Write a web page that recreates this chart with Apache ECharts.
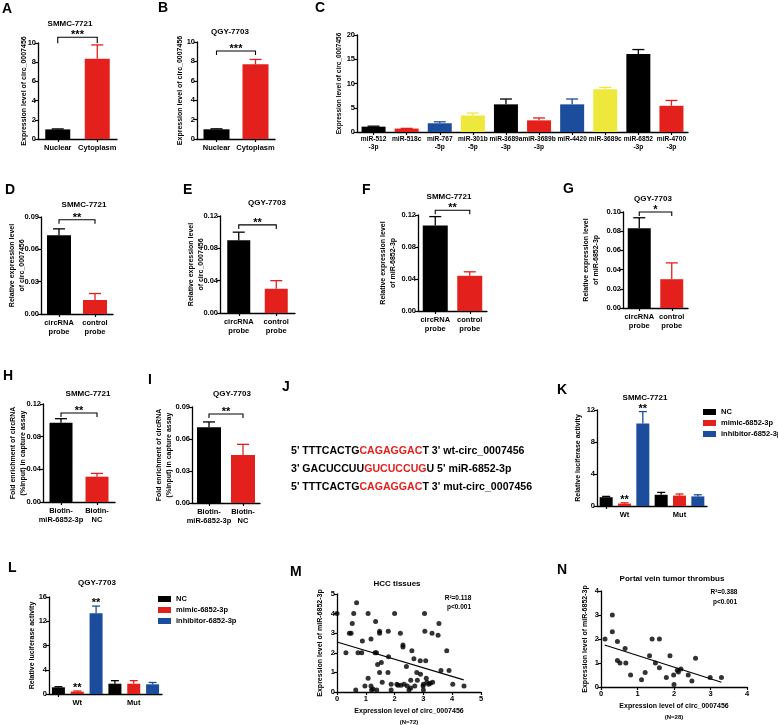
<!DOCTYPE html>
<html><head><meta charset="utf-8">
<script src="https://cdn.jsdelivr.net/npm/echarts@6/dist/echarts.min.js"></script>
<style>html,body{margin:0;padding:0;background:#fff}#c{width:778px;height:725px}</style>
</head><body><div id="c"></div>
<script>
const F = '"Liberation Sans", Arial, Helvetica, sans-serif';
const BLACK = '#000000', RED = '#e3201c', BLUE = '#1c4c9c', YELLOW = '#eee83c';

// ---------------- data ----------------
const abCats = ['Nuclear', 'Cytoplasm'];
const aMean = [1.0, 8.35], aUpper = [1.05, 9.8];
const bMean = [1.0, 7.7],  bUpper = [1.05, 8.2];

const cCats = ['miR-512\n-3p','miR-518c','miR-767\n-5p','miR-301b\n-5p','miR-3689a\n-3p','miR-3689b\n-3p','miR-4420','miR-3689c','miR-6852\n-3p','miR-4700\n-3p'];
const cMean  = [1.1, 0.7, 1.8, 3.4, 5.7, 2.4, 5.7, 8.8, 16.1, 5.4];
const cUpper = [1.2, 0.75, 2.1, 3.9, 6.8, 2.9, 6.8, 9.2, 17.0, 6.5];
const cColors = [BLACK, RED, BLUE, YELLOW, BLACK, RED, BLUE, YELLOW, BLACK, RED];

const probeCats = ['circRNA\nprobe', 'control\nprobe'];
const dMean = [0.073, 0.013], dUpper = [0.079, 0.019];
const eMean = [0.090, 0.030], eUpper = [0.100, 0.040];
const fMean = [0.107, 0.044], fUpper = [0.118, 0.049];
const gMean = [0.083, 0.030], gUpper = [0.094, 0.047];

const biotinCats = ['Biotin-\nmiR-6852-3p', 'Biotin-\nNC'];
const hMean = [0.097, 0.031], hUpper = [0.102, 0.035];
const iMean = [0.071, 0.045], iUpper = [0.076, 0.055];

const lucGroups = ['Wt', 'Mut'];
const lucNames = ['NC', 'mimic-6852-3p', 'inhibitor-6852-3p'];
const lucColors = [BLACK, RED, BLUE];
const kMean  = [[1.1, 1.4], [0.3, 1.3], [10.3, 1.2]];
const kUpper = [[1.2, 1.7], [0.4, 1.5], [11.8, 1.4]];
const lMean  = [[1.1, 1.7], [0.4, 1.7], [13.3, 1.6]];
const lUpper = [[1.2, 2.2], [0.5, 2.2], [14.5, 1.9]];

const mX = [0,0.31,0.43,0.49,0.53,0.58,0.68,0.65,0.73,0.86,
  0.88,0.97,1.08,1.08,1.18,1.18,1.2,1.32,1.34,1.37,
  1.38,1.41,1.48,1.48,1.48,1.54,1.57,1.77,1.78,1.79,
  1.88,1.88,2.0,2.08,2.12,2.2,2.22,2.29,2.29,2.33,
  2.41,2.44,2.5,2.56,2.6,2.56,2.67,2.7,2.77,2.79,
  2.89,2.9,2.99,3.0,3.0,3.04,3.05,3.08,3.1,3.12,
  3.18,3.24,3.3,3.32,3.51,3.54,3.61,3.81,3.89,4.02,
  4.41,1.25];
const mY = [4.0,2.0,3.0,3.0,3.5,4.0,4.55,0.1,2.0,2.0,
  2.6,0.3,0.7,4.0,2.7,0.3,0.1,2.0,3.6,2.0,
  0.1,1.4,3.1,3.0,1.0,1.5,0.5,1.0,3.1,1.8,
  0.4,0.1,4.0,0.4,0.35,3.0,0.35,2.4,2.3,0.4,
  1.3,0.3,0.1,0.6,2.1,0.2,1.7,0.3,1.0,0.6,
  1.6,0.9,0.3,0.1,0.4,4.0,3.1,1.6,0.7,0.5,
  0.4,0.45,3.0,0.5,2.9,3.5,1.1,2.1,1.1,0.4,
  0.3,0.15];
const mFitX = [0, 4.4], mFitY = [2.55, 0.62];

const nX = [0.11,0.31,0.31,0.45,0.45,0.52,0.66,0.68,0.81,1.11,1.21,1.33,1.4,1.49,1.6,1.6,1.79,1.89,1.99,2.0,2.09,2.19,2.39,2.49,2.59,2.99,3.3,2.12];
const nY = [2.0,3.0,2.3,1.9,1.1,1.0,1.6,1.0,0.5,0.3,0.6,1.3,2.0,1.0,2.0,0.8,0.4,1.3,0.5,0.1,0.7,0.75,0.5,0.25,1.2,0.4,0.4,0.62];
const nFitX = [0.1, 3.3], nFitY = [1.75, 0.2];

const jLines = [
  ["5' TTTCACTG", 'CAGAGGAC', "T 3' wt-circ_0007456"],
  ["3' GACUCCUU", 'GUCUCCUG', "U 5' miR-6852-3p"],
  ["5' TTTCACTG", 'CAGAGGAC', "T 3' mut-circ_0007456"]
];

// ---------------- builders ----------------
const grids = [], xAxes = [], yAxes = [], series = [], graphics = [];
const LBL = {color:'#000', fontFamily:F, fontWeight:'bold', fontSize:7.5};
const NAME = {color:'#000', fontFamily:F, fontWeight:'bold', fontSize:7, lineHeight:10};
const LINE = {show:true, lineStyle:{color:'#000', width:1.3}};

function addGrid(l, t, w, h) {
  grids.push({left:l, top:t, width:w, height:h, containLabel:false, outerBoundsMode:'none'});
  return grids.length - 1;
}
function addXCat(gi, cats, extra) {
  xAxes.push(Object.assign({type:'category', gridIndex:gi, data:cats, position:'bottom',
    axisLine:LINE, axisTick:{show:true, alignWithLabel:true, length:3, lineStyle:{color:'#000', width:1.2}},
    axisLabel:Object.assign({}, LBL, {interval:0, margin:5, lineHeight:8.5}), splitLine:{show:false}}, extra || {}));
  return xAxes.length - 1;
}
function addY(gi, min, max, interval, name, gap, dec, extra) {
  yAxes.push(Object.assign({type:'value', gridIndex:gi, min, max, interval, name, nameLocation:'middle', nameGap:gap, nameRotate:90,
    nameMoveOverlap:false,
    nameTextStyle:NAME, axisLine:LINE, axisTick:{show:true, length:3, lineStyle:{color:'#000', width:1.2}},
    axisLabel:Object.assign({}, LBL, {margin:2, formatter:v => dec != null ? v.toFixed(dec) : String(v)}),
    splitLine:{show:false}}, extra || {}));
  return yAxes.length - 1;
}
function addBars(xi, yi, vals, colors, bw) {
  series.push({type:'bar', xAxisIndex:xi, yAxisIndex:yi, barWidth:bw, silent:true,
    data: vals.map((v, i) => ({value:v, itemStyle:{color:colors[i]}}))});
}
function addErr(xi, yi, xs, vals, tops, colors, cap) {
  series.push({type:'custom', xAxisIndex:xi, yAxisIndex:yi, z:3, silent:true,
    data: xs.map((x, i) => [x, vals[i], tops[i]]),
    renderItem: (p, api) => {
      const a = api.coord([api.value(0), api.value(1)]);
      const b = api.coord([api.value(0), api.value(2)]);
      const c = colors[p.dataIndex];
      return {type:'group', children:[
        {type:'line', shape:{x1:a[0], y1:a[1], x2:b[0], y2:b[1]}, style:{stroke:c, lineWidth:1.3}},
        {type:'line', shape:{x1:b[0]-cap/2, y1:b[1], x2:b[0]+cap/2, y2:b[1]}, style:{stroke:c, lineWidth:1.3}}
      ]};
    }});
}
function tstyle(text, x, y, size, align, va) {
  return {text, x, y, font:`bold ${size}px ${F}`, fill:'#000',
    textAlign:align, textVerticalAlign:va, align:align, verticalAlign:va};
}
function addBracket(xi, yi, y, leg, text) {
  series.push({type:'custom', xAxisIndex:xi, yAxisIndex:yi, z:4, silent:true, data:[[0, 1, y]],
    renderItem: (p, api) => {
      const a = api.coord([api.value(0), api.value(2)]);
      const b = api.coord([api.value(1), api.value(2)]);
      return {type:'group', children:[
        {type:'polyline', shape:{points:[[a[0], a[1]+leg], [a[0], a[1]], [b[0], b[1]], [b[0], b[1]+leg]]},
          style:{stroke:'#000', lineWidth:1.1, fill:null}},
        {type:'text', style:tstyle(text, (a[0]+b[0])/2, a[1]-2, 11, 'center', 'middle')}
      ]};
    }});
}
function addStars(xi, yi, xs, tops, text) {
  series.push({type:'custom', xAxisIndex:xi, yAxisIndex:yi, z:4, silent:true,
    data: xs.map((x, i) => [x, tops[i]]),
    renderItem: (p, api) => {
      const a = api.coord([api.value(0), api.value(1)]);
      return {type:'text', style:tstyle(text, a[0], a[1]-3, 11, 'center', 'middle')};
    }});
}
function simplePanel(g, cats, mean, upper, colors, yr, dec, yname, ngap, bw, cap, br) {
  const gi = addGrid(...g);
  const xi = addXCat(gi, cats);
  const yi = addY(gi, yr[0], yr[1], yr[2], yname, ngap, dec);
  addBars(xi, yi, mean, colors, bw);
  addErr(xi, yi, cats.map((_, i) => i), mean, upper, colors, cap);
  if (br) addBracket(xi, yi, br[0], br[1], br[2]);
}
function lucPanel(g, mean, upper, yr, ngap, starsX, starsTop) {
  const gi = addGrid(...g);
  const slots = [];
  lucGroups.forEach((gname) => lucNames.forEach((s) => slots.push(gname + '-' + s)));
  const xi = addXCat(gi, slots, {axisLabel:{show:false}});
  const xl = addXCat(gi, lucGroups, {axisLine:{show:false}, axisTick:{show:false},
    axisLabel:Object.assign({}, LBL, {margin:5})});
  const yi = addY(gi, yr[0], yr[1], yr[2], 'Relative luciferase activity', ngap, null);
  const xs = [], vs = [], ts = [], cs = [];
  lucNames.forEach((name, sIdx) => {
    const data = slots.map(() => '-');
    lucGroups.forEach((gname, gIdx) => {
      const slot = gIdx * lucNames.length + sIdx;
      data[slot] = mean[sIdx][gIdx];
      xs.push(slot); vs.push(mean[sIdx][gIdx]); ts.push(upper[sIdx][gIdx]); cs.push(lucColors[sIdx]);
    });
    series.push({type:'bar', name, xAxisIndex:xi, yAxisIndex:yi, barWidth:13, barGap:'-100%', silent:true,
      itemStyle:{color:lucColors[sIdx]}, data});
  });
  addErr(xi, yi, xs, vs, ts, cs, 8);
  addStars(xi, yi, starsX, starsTop, '**');
}
function scatterPanel(g, xr, yr, xs, ys, fx, fy, nLabel, ygap) {
  const gi = addGrid(...g);
  xAxes.push({type:'value', gridIndex:gi, min:xr[0], max:xr[1], interval:1, nameMoveOverlap:false,
    name:'{a|Expression level of circ_0007456}\n{b|' + nLabel + '}', nameLocation:'middle', nameGap:14,
    nameTextStyle:{color:'#000', fontFamily:F, fontWeight:'bold',
      rich:{a:{fontSize:7, fontWeight:'bold', fontFamily:F, color:'#000', lineHeight:11},
            b:{fontSize:6, fontWeight:'bold', fontFamily:F, color:'#000', lineHeight:11}}},
    axisLine:LINE, axisTick:{show:true, length:3, lineStyle:{color:'#000', width:1.2}},
    axisLabel:Object.assign({}, LBL, {margin:3}), splitLine:{show:false}});
  const xi = xAxes.length - 1;
  const yi = addY(gi, yr[0], yr[1], 1, 'Expression level of miR-6852-3p', ygap, null);
  series.push({type:'scatter', xAxisIndex:xi, yAxisIndex:yi, symbolSize:5, silent:true,
    itemStyle:{color:'#000'}, data: xs.map((x, i) => [x, ys[i]])});
  series.push({type:'line', xAxisIndex:xi, yAxisIndex:yi, symbol:'none', silent:true,
    lineStyle:{color:'#000', width:1.1}, data: fx.map((x, i) => [x, fy[i]])});
}

// ---------------- panels ----------------
const nameCirc = 'Expression level of circ_0007456';
simplePanel([38, 43, 79, 96], abCats, aMean, aUpper, [BLACK, RED], [0, 10, 2], null, nameCirc, 8.5, 25, 12, [10.6, 6, '***']);
simplePanel([197, 42, 78, 97], abCats, bMean, bUpper, [BLACK, RED], [0, 10, 2], null, nameCirc, 11.5, 26, 12, [9.07, 4, '***']);
(function(){
  const gi = addGrid(357, 35, 331, 97);
  const xi = addXCat(gi, cCats, {axisLabel:Object.assign({}, LBL, {interval:0, margin:3, lineHeight:8, fontSize:6.6})});
  const yi = addY(gi, 0, 20, 5, nameCirc, 13, null);
  yAxes[yi].nameTextStyle = Object.assign({}, NAME, {fontSize:6.5});
  addBars(xi, yi, cMean, cColors, 24);
  addErr(xi, yi, cCats.map((_, i) => i), cMean, cUpper, cColors, 12);
})();
simplePanel([41, 217, 72, 97], probeCats, dMean, dUpper, [BLACK, RED], [0, 0.09, 0.03], 2, 'Relative expression level\nof circ_0007456', 14, 24, 12, [0.0875, 4, '**']);
simplePanel([220, 216, 75, 97], probeCats, eMean, eUpper, [BLACK, RED], [0, 0.12, 0.04], 2, 'Relative expression level\nof circ_0007456', 14, 23, 12, [0.109, 4, '**']);
simplePanel([418, 215, 69, 96], probeCats, fMean, fUpper, [BLACK, RED], [0, 0.12, 0.04], 2, 'Relative expression level\nof miR-6852-3p', 19.5, 25, 12, [0.126, 4, '**']);
simplePanel([623, 212, 65, 96], probeCats, gMean, gUpper, [BLACK, RED], [0, 0.10, 0.02], 2, 'Relative expression level\nof miR-6852-3p', 22, 23, 12, [0.1, 4, '*']);
simplePanel([43, 404, 72, 98], biotinCats, hMean, hUpper, [BLACK, RED], [0, 0.12, 0.04], 2, 'Fold enrichment of circRNA\n(%input) in capture assay', 15, 23, 12, [0.109, 4, '**']);
simplePanel([192, 407, 68, 96], biotinCats, iMean, iUpper, [BLACK, RED], [0, 0.09, 0.03], 2, 'Fold enrichment of circRNA\n(%input) in capture assay', 17.5, 24, 12, [0.0834, 4, '**']);
lucPanel([597, 410, 110, 96], kMean, kUpper, [0, 12, 4], 13.5, [1, 2], [kUpper[1][0], kUpper[2][0]]);
lucPanel([49, 597, 113, 97], lMean, lUpper, [0, 16, 4], 11.5, [1, 2], [lUpper[1][0], lUpper[2][0]]);
scatterPanel([337, 594, 144, 98], [0, 5], [0, 5], mX, mY, mFitX, mFitY, '(N=72)', 11.5);
scatterPanel([601, 591, 146, 96], [0, 4], [0, 4], nX, nY, nFitX, nFitY, '(N=28)', 10.5);

// ---------------- texts ----------------
function txt(x, y, text, size, align) {
  graphics.push({type:'text', silent:true, style:tstyle(text, x, y, size, align || 'center', 'middle')});
}
[['SMMC-7721',70,24],['QGY-7703',230,32],['SMMC-7721',84,205],['QGY-7703',267,203],['SMMC-7721',449,197],
 ['QGY-7703',653,199],['SMMC-7721',88,394],['QGY-7703',232,394],['SMMC-7721',645,398],['QGY-7703',97,583],
 ['HCC tissues',397,584],['Portal vein tumor thrombus',672,579]].forEach(t => txt(t[1], t[2], t[0], 8));
[['A',2,9],['B',158,8],['C',315,8],['D',5,190],['E',183,190],['F',362,190],['G',563,189],['H',3,376],
 ['I',148,380],['J',282,387],['K',557,390],['L',8,568],['M',290,572],['N',557,570]].forEach(t => txt(t[1], t[2], t[0], 14, 'left'));
txt(458, 598, 'R²=0.118', 6.5); txt(459, 607, 'p<0.001', 6.5);
txt(724, 592, 'R²=0.388', 6.5); txt(725, 602, 'p<0.001', 6.5);
jLines.forEach((ln, i) => {
  graphics.push({type:'text', silent:true, style:{
    text:'{k|' + ln[0] + '}{r|' + ln[1] + '}{k|' + ln[2] + '}', x:291, y:451 + i*18,
    textAlign:'left', textVerticalAlign:'middle', align:'left', verticalAlign:'middle',
    font:`bold 10.6px ${F}`,
    rich:{k:{fill:'#000', fontSize:10.6, fontWeight:'bold', fontFamily:F},
          r:{fill:RED, fontSize:10.6, fontWeight:'bold', fontFamily:F}}}});
});

const legendBase = {data:lucNames, orient:'vertical', itemWidth:13, itemHeight:6, itemGap:3, icon:'rect', padding:0,
  selectedMode:false, textStyle:{fontSize:7.5, fontWeight:'bold', fontFamily:F, color:'#000'}};

const chart = echarts.init(document.getElementById('c'), null, {renderer:'canvas'});
chart.setOption({
  backgroundColor:'#fff', animation:false,
  grid:grids, xAxis:xAxes, yAxis:yAxes, series, graphic:graphics,
  legend:[Object.assign({left:703, top:408}, legendBase), Object.assign({left:158, top:595}, legendBase)]
});
</script></body></html>
